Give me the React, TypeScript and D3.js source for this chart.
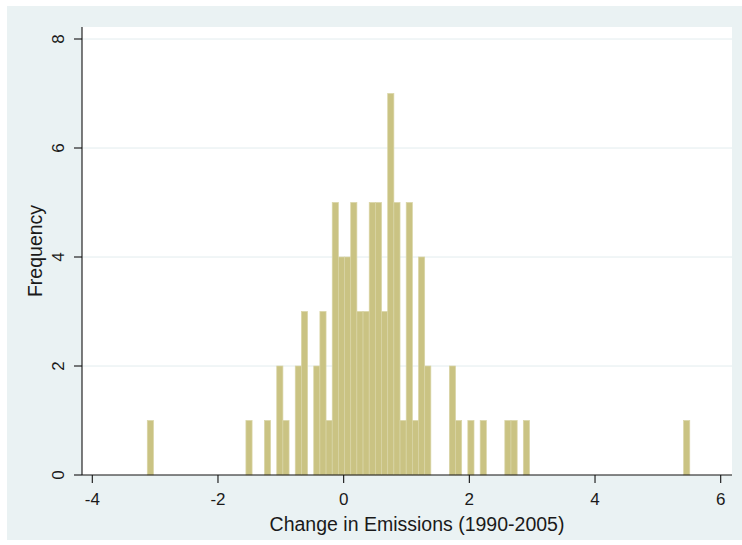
import React from 'react';
import * as d3 from 'd3';

// Histogram of the change in emissions, 88 equal-width bins
const binStart = -3.125;
const binWidth = 0.0981;
const binCounts = [
  1, 0, 0, 0, 0, 0, 0, 0, 0, 0,
  0, 0, 0, 0, 0, 0, 1, 0, 0, 1,
  0, 2, 1, 0, 2, 3, 0, 2, 3, 1,
  5, 4, 4, 5, 3, 3, 5, 5, 3, 7,
  5, 1, 5, 1, 4, 2, 0, 0, 0, 2,
  1, 0, 1, 0, 1, 0, 0, 0, 1, 1,
  0, 1, 0, 0, 0, 0, 0, 0, 0, 0,
  0, 0, 0, 0, 0, 0, 0, 0, 0, 0,
  0, 0, 0, 0, 0, 0, 0, 1,
];
const xTicks = [-4, -2, 0, 2, 4, 6];
const yTicks = [0, 2, 4, 6, 8];
const gridTicks = [2, 4, 6, 8];
const xTitle = 'Change in Emissions (1990-2005)';
const yTitle = 'Frequency';

const W = 742;
const H = 545;
const plot = { left: 82, right: 732, top: 27, bottom: 475 };
const FONT = '"Liberation Sans", Arial, sans-serif';

export default function App() {
  const x = d3.scaleLinear().domain([-4, 6]).range([92.3, 720.7]);
  const y = d3.scaleLinear().domain([0, 8]).range([475, 39]);

  const bins = binCounts.map((count, i) => ({
    x0: binStart + i * binWidth,
    x1: binStart + (i + 1) * binWidth,
    count,
  }));

  return (
    <svg
      width={W}
      height={H}
      style={{ position: 'absolute', left: 0, top: 0, background: '#fff' }}
    >
      {/* graph region */}
      <rect x={7} y={6} width={W - 7} height={534} fill="#EAF2F3" />
      {/* plot region */}
      <rect
        x={plot.left}
        y={plot.top}
        width={plot.right - plot.left}
        height={plot.bottom - plot.top}
        fill="#ffffff"
      />
      {/* grid */}
      {gridTicks.map((t) => (
        <line
          key={'g' + t}
          x1={plot.left}
          x2={plot.right}
          y1={y(t)}
          y2={y(t)}
          stroke="#E2ECEE"
          strokeWidth={1}
        />
      ))}
      {/* bars */}
      {bins
        .filter((b) => b.count > 0)
        .map((b, i) => (
          <rect
            key={'b' + i}
            x={x(b.x0)}
            y={y(b.count)}
            width={x(b.x1) - x(b.x0)}
            height={y(0) - y(b.count)}
            fill="#CAC383"
            stroke="#D9D5A6"
            strokeWidth={0.7}
          />
        ))}
      {/* axes */}
      <line x1={plot.left} x2={plot.left} y1={plot.top} y2={plot.bottom} stroke="#111" strokeWidth={1.1} />
      <line x1={plot.left} x2={plot.right} y1={plot.bottom} y2={plot.bottom} stroke="#111" strokeWidth={1.1} />
      {yTicks.map((t) => (
        <g key={'y' + t}>
          <line x1={plot.left - 8} x2={plot.left} y1={y(t)} y2={y(t)} stroke="#111" strokeWidth={1.1} />
          <text
            transform={`translate(${63.5},${y(t)}) rotate(-90)`}
            textAnchor="middle"
            fontFamily={FONT}
            fontSize={17}
            fill="#1a1a1a"
          >
            {t}
          </text>
        </g>
      ))}
      {xTicks.map((t) => (
        <g key={'x' + t}>
          <line x1={x(t)} x2={x(t)} y1={plot.bottom} y2={plot.bottom + 8} stroke="#111" strokeWidth={1.1} />
          <text
            x={x(t)}
            y={505}
            textAnchor="middle"
            fontFamily={FONT}
            fontSize={17}
            fill="#1a1a1a"
          >
            {t}
          </text>
        </g>
      ))}
      <text
        x={417}
        y={530.5}
        textAnchor="middle"
        fontFamily={FONT}
        fontSize={19.5}
        fill="#1a1a1a"
      >
        {xTitle}
      </text>
      <text
        transform={`translate(${42},${(plot.top + plot.bottom) / 2}) rotate(-90)`}
        textAnchor="middle"
        fontFamily={FONT}
        fontSize={19.5}
        fill="#1a1a1a"
      >
        {yTitle}
      </text>
    </svg>
  );
}
